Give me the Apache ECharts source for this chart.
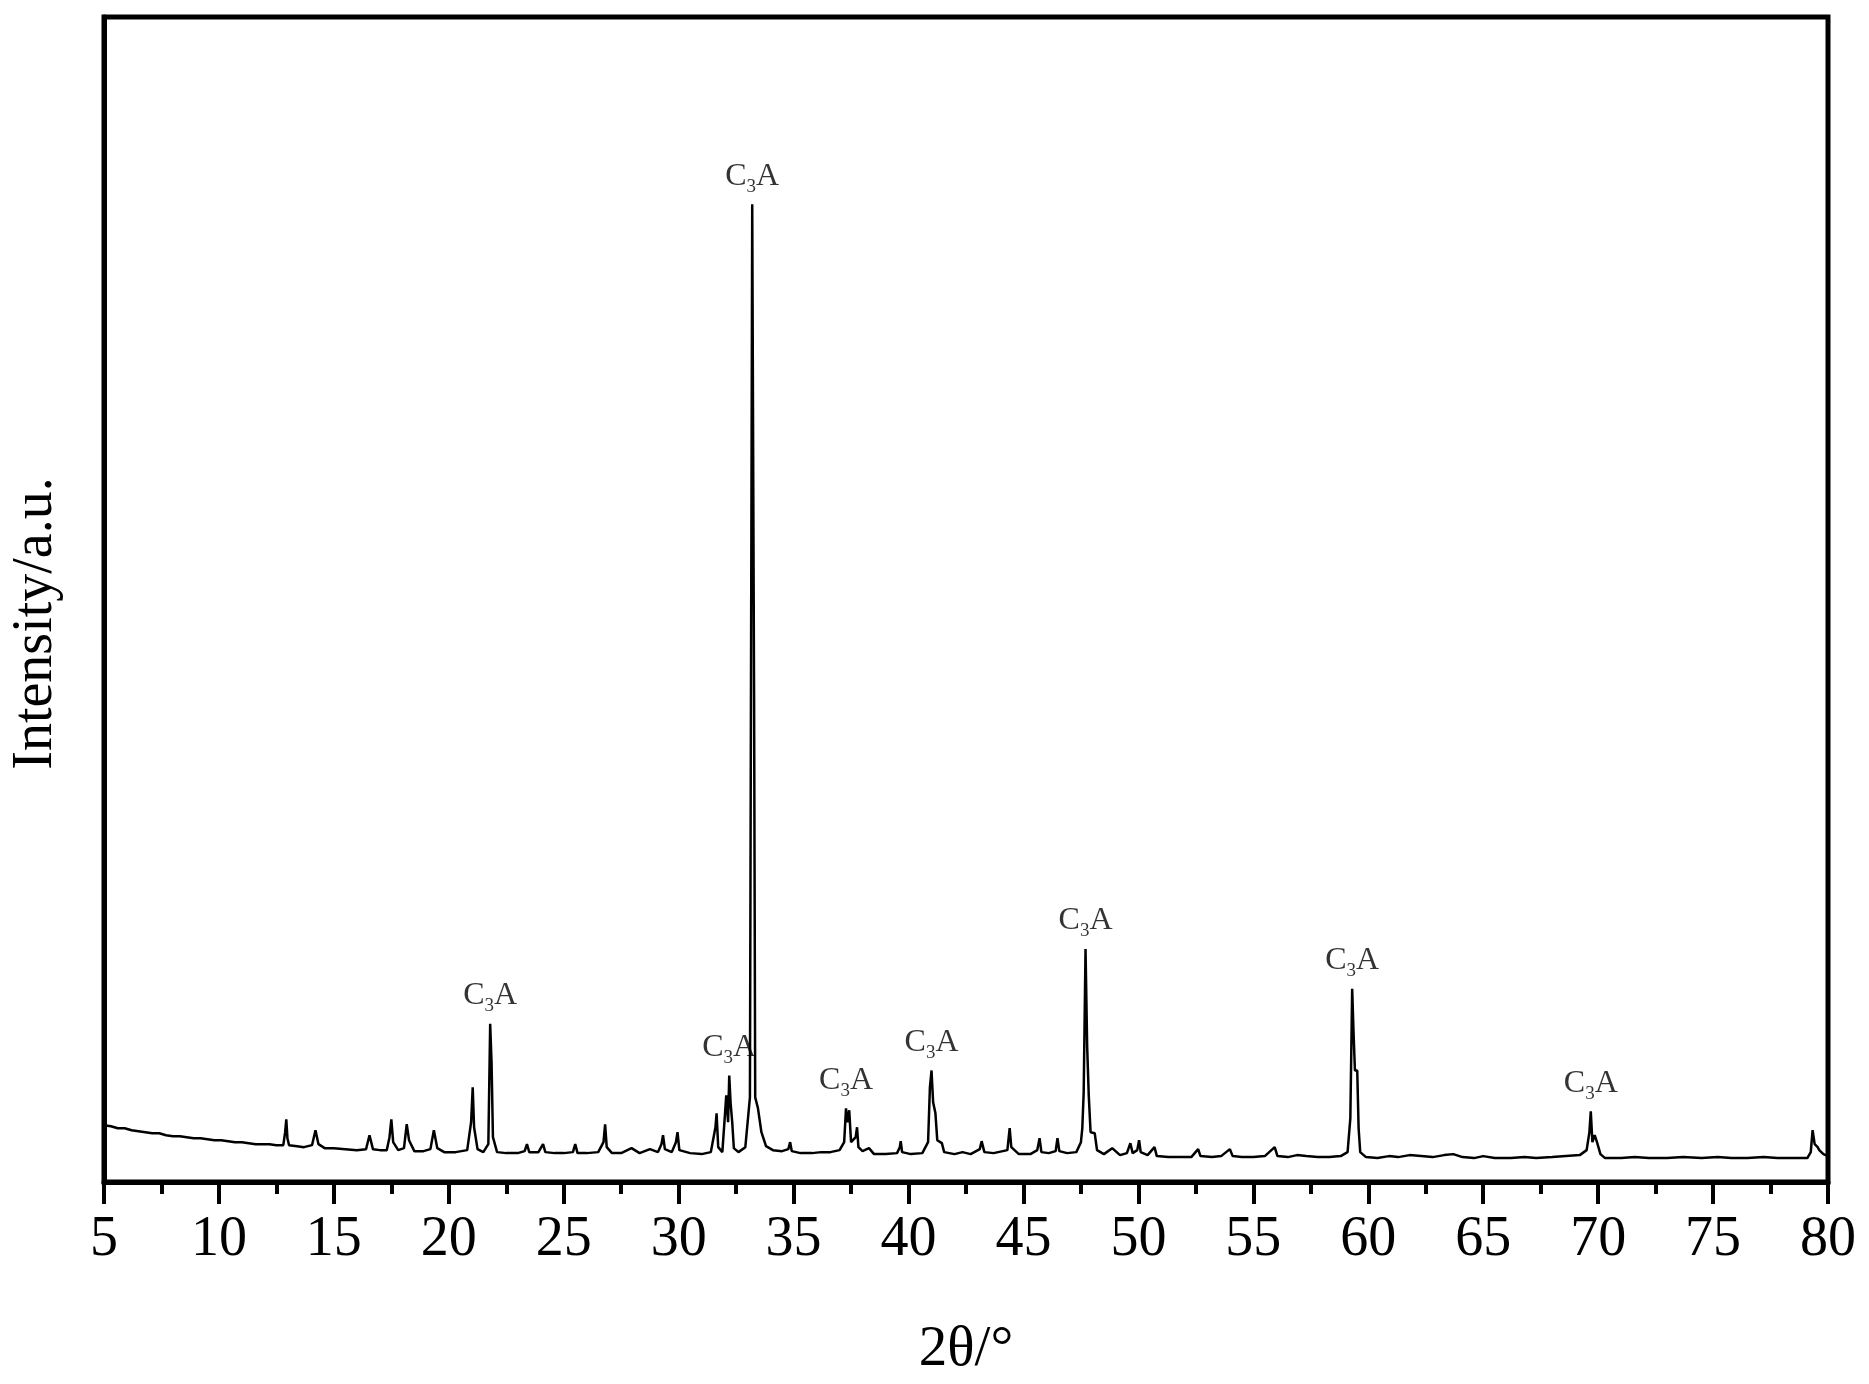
<!DOCTYPE html>
<html><head><meta charset="utf-8">
<script src="https://cdn.jsdelivr.net/npm/echarts@6/dist/echarts.min.js"></script>
<style>html,body{margin:0;padding:0;background:#fff}#c{width:1869px;height:1384px}</style>
</head><body><div id="c"></div>
<script>
// 2θ positions (degrees)
const twoTheta = [
5.0,5.3,5.6,5.9,6.2,6.5,6.8,7.1,7.4,7.7,8.0,8.3,8.6,8.9,9.2,9.5,9.8,10.1,10.4,10.7,11.0,11.3,11.6,11.9,12.2,12.5,12.8,
12.88,12.93,12.98,13.05,13.4,13.7,14.05,14.2,14.33,14.6,15.0,15.5,16.0,16.4,16.55,16.7,17.0,17.3,17.42,17.5,17.58,17.8,
18.05,18.17,18.27,18.5,18.9,19.2,19.35,19.5,19.8,20.3,20.8,20.97,21.04,21.1,21.25,21.5,21.72,21.8,21.86,21.92,22.1,22.5,
23.0,23.3,23.4,23.5,23.9,24.1,24.2,24.6,25.0,25.4,25.5,25.6,26.0,26.5,26.73,26.8,26.87,27.1,27.5,27.95,28.3,28.75,29.1,
29.25,29.32,29.4,29.7,29.88,29.95,30.03,30.5,31.0,31.4,31.6,31.65,31.72,31.9,32.02,32.07,32.15,32.2,32.26,32.33,32.4,32.6,
32.9,33.1,33.2,33.28,33.33,33.45,33.6,33.8,34.1,34.5,34.77,34.85,34.92,35.3,35.8,36.2,36.6,37.0,37.2,37.28,37.34,37.42,
37.5,37.7,37.76,37.82,38.0,38.28,38.5,39.0,39.5,39.62,39.66,39.72,40.1,40.6,40.85,40.93,41.0,41.07,41.17,41.25,41.45,41.55,
42.0,42.35,42.7,43.1,43.18,43.3,43.7,44.3,44.4,44.47,44.8,45.3,45.6,45.7,45.78,46.1,46.4,46.48,46.56,46.9,47.3,47.5,47.56,
47.62,47.7,47.77,47.84,47.92,48.1,48.2,48.5,48.86,49.2,49.5,49.65,49.75,49.95,50.03,50.1,50.4,50.7,50.8,51.3,51.8,52.3,
52.6,52.7,53.2,53.6,53.98,54.1,54.5,55.0,55.5,55.93,56.05,56.5,56.9,57.3,57.8,58.3,58.8,59.1,59.22,59.3,59.36,59.42,59.52,
59.58,59.65,59.9,60.4,60.9,61.3,61.8,62.3,62.8,63.3,63.7,64.1,64.6,65.0,65.5,66.2,66.8,67.3,68.0,68.6,69.2,69.5,69.62,69.68,
69.75,69.85,69.95,70.1,70.3,71.0,71.6,72.2,73.0,73.7,74.5,75.2,75.8,76.5,77.2,77.8,78.5,79.1,79.25,79.33,79.42,79.55,79.62,
79.7,79.8,80.0
];
// intensity (a.u.)
const intensity = [
57,56,54,54,52,51,50,49,49,47,46,46,45,44,44,43,42,42,41,40,40,39,38,38,38,37,37,
50,63,44,37,36,35,37,52,38,34,34,33,32,33,47,33,32,32,45,63,40,32,
34,58,42,31,31,33,52,34,30,30,32,60,95,55,33,30,38,159,120,45,30,29,
29,31,38,30,30,38,30,29,29,30,38,29,29,30,40,58,35,29,29,34,29,33,30,
38,47,33,30,40,50,32,29,28,30,55,69,35,30,70,87,60,107,79,60,34,30,
35,85,982,492,85,74,50,36,32,31,33,40,31,29,29,30,30,32,40,74,60,72,
40,45,55,35,31,34,28,28,29,35,41,30,28,29,40,95,112,80,69,42,39,30,
28,30,28,33,41,30,29,32,54,35,28,28,32,44,30,29,31,44,31,29,30,40,54,
90,234,137,87,50,49,32,28,34,27,29,39,29,32,42,30,27,35,26,25,25,25,
33,26,25,26,33,26,25,25,26,35,26,25,27,26,25,25,26,30,64,194,150,112,112,
54,30,25,24,26,25,27,26,25,27,28,25,24,26,24,24,25,24,25,26,27,32,50,71,
40,47,40,28,24,24,25,24,24,25,24,25,24,24,25,24,24,24,30,52,38,35,32,
34,28,26
];
// labelled C3A reflections (2θ)
const peakLabelPositions = [21.8, 32.2, 33.2, 37.28, 41.0, 47.7, 59.3, 69.68];
const xTickMin = 5, xTickMax = 80, xTickStep = 5;

const pattern = twoTheta.map((x, i) => [x, intensity[i]]);
const labelPts = peakLabelPositions.map(x => [x, intensity[twoTheta.indexOf(x)]]);

const serif = 'Liberation Serif';
const chart = echarts.init(document.getElementById('c'), null, {renderer: 'canvas'});
chart.setOption({
  animation: false,
  backgroundColor: '#fff',
  grid: {left: 99, right: 41, top: 17, bottom: 197, show: true, borderColor: '#000', borderWidth: 5},
  xAxis: {
    type: 'value', min: xTickMin, max: xTickMax, interval: xTickStep,
    axisLine: {lineStyle: {color: '#000', width: 5}},
    axisTick: {show: true, length: 22, lineStyle: {color: '#000', width: 4}},
    minorTick: {show: true, splitNumber: 2, length: 12, lineStyle: {color: '#000', width: 4}},
    axisLabel: {fontFamily: serif, fontSize: 56, color: '#000', margin: 30},
    splitLine: {show: false},
    name: '2θ/°', nameLocation: 'middle', nameGap: 140,
    nameTextStyle: {fontFamily: serif, fontSize: 57, color: '#000'}
  },
  yAxis: {
    type: 'value', min: 0, max: 1170,
    axisLine: {show: true, lineStyle: {color: '#000', width: 5}},
    axisTick: {show: false}, axisLabel: {show: false}, splitLine: {show: false},
    name: 'Intensity/a.u.', nameLocation: 'middle', nameGap: 40,
    nameTextStyle: {fontFamily: serif, fontSize: 56, color: '#000', padding: [0, 48, 0, 0]}
  },
  series: [
    {
      type: 'line', data: pattern, showSymbol: false, sampling: null,
      lineStyle: {color: '#000', width: 2.5}, z: 2
    },
    {
      type: 'scatter', data: labelPts, symbolSize: 0, z: 3,
      label: {
        show: true, position: 'top', distance: 8,
        formatter: '{c|C}{s|3}{c|A}',
        rich: {
          c: {fontFamily: serif, fontSize: 32, color: '#000', lineHeight: 40, verticalAlign: 'middle'},
          s: {fontFamily: serif, fontSize: 19, color: '#000', lineHeight: 20, verticalAlign: 'bottom'}
        }
      }
    }
  ]
});
</script>
</body></html>
